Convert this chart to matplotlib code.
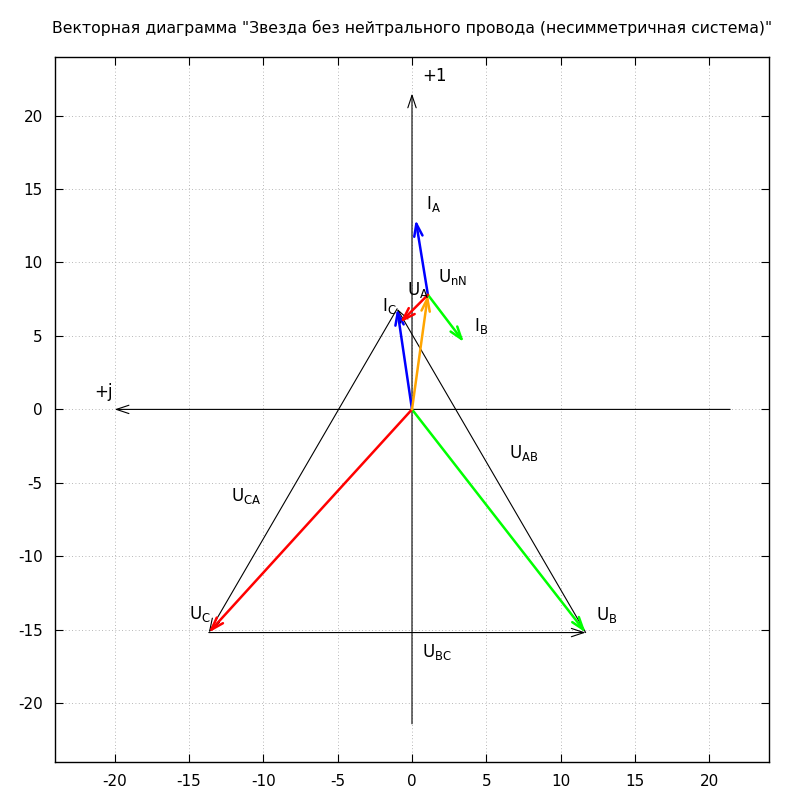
import matplotlib
matplotlib.use("Agg")
import matplotlib.pyplot as plt

plt.rcParams["axes.unicode_minus"] = False

# key points of the diagram (x = +j axis drawn to the left, y = +1)
origin = (0.0, 0.0)
pt_A = (-1.0, 6.85)
pt_B = (11.68, -15.19)
pt_C = (-13.67, -15.19)
pt_N = (1.07, 7.8)
tip_IA = (0.25, 12.9)
tip_IB = (3.49, 4.58)
tip_IC = (-0.8, 5.9)

# coloured vectors: start, end, colour
vec_starts = [origin, origin, origin, origin, pt_N, pt_N, pt_N]
vec_ends = [pt_A, pt_B, pt_C, pt_N, tip_IA, tip_IB, tip_IC]
vec_colors = ["#0000ff", "#00ff00", "#ff0000", "#ffa500", "#0000ff", "#00ff00", "#ff0000"]

# line voltages (black triangle)
line_starts = [pt_B, pt_C, pt_A]
line_ends = [pt_A, pt_B, pt_C]

# coordinate axes arrows
axis_starts = [(0.0, -21.4), (21.4, 0.0)]
axis_ends = [(0.0, 21.5), (-20.0, 0.0)]

label_texts = ["+1", "+j", r"$\mathregular{I_A}$", r"$\mathregular{U_{nN}}$", r"$\mathregular{U_A}$",
               r"$\mathregular{I_C}$", r"$\mathregular{I_B}$", r"$\mathregular{U_{AB}}$",
               r"$\mathregular{U_{CA}}$", r"$\mathregular{U_C}$", r"$\mathregular{U_B}$",
               r"$\mathregular{U_{BC}}$"]
label_x = [0.7, -21.4, 0.95, 1.75, -0.35, -2.0, 4.2, 6.5, -12.2, -15.0, 12.35, 0.7]
label_y = [22.7, 1.2, 14.0, 9.0, 8.1, 7.07, 5.7, -3.0, -5.9, -13.95, -14.0, -16.5]

ticks = [-20, -15, -10, -5, 0, 5, 10, 15, 20]

fig = plt.figure(figsize=(8, 8), dpi=100)
ax = fig.add_axes([0.069, 0.0475, 0.892, 0.8815])

def draw_arrow(start, end, color, lw, hl, hw):
    ax.annotate("", xy=end, xytext=start,
                arrowprops=dict(arrowstyle=f"->,head_length={hl},head_width={hw}",
                                color=color, lw=lw, shrinkA=0, shrinkB=0,
                                mutation_scale=10))

for s, e in zip(axis_starts, axis_ends):
    draw_arrow(s, e, "black", 0.8, 0.9, 0.3)
for s, e in zip(line_starts, line_ends):
    draw_arrow(s, e, "black", 0.8, 0.9, 0.3)
for s, e, c in zip(vec_starts, vec_ends, vec_colors):
    draw_arrow(s, e, c, 1.8, 0.9, 0.3)

for t, x, y in zip(label_texts, label_x, label_y):
    ax.text(x, y, t, fontsize=12, ha="left", va="center")

ax.set_xlim(-24, 24)
ax.set_ylim(-24, 24)
ax.set_xticks(ticks)
ax.set_yticks(ticks)
ax.tick_params(direction="in", top=True, right=True, length=6, labelsize=11, pad=9)
ax.grid(True, color="#a0a0a0", linestyle=(0, (1, 3)), linewidth=0.6)
for sp in ax.spines.values():
    sp.set_linewidth(1.0)

fig.suptitle('Векторная диаграмма "Звезда без нейтрального провода (несимметричная система)"',
             x=0.515, y=0.975, fontsize=11.3)

fig.savefig("out.png", dpi=100)
